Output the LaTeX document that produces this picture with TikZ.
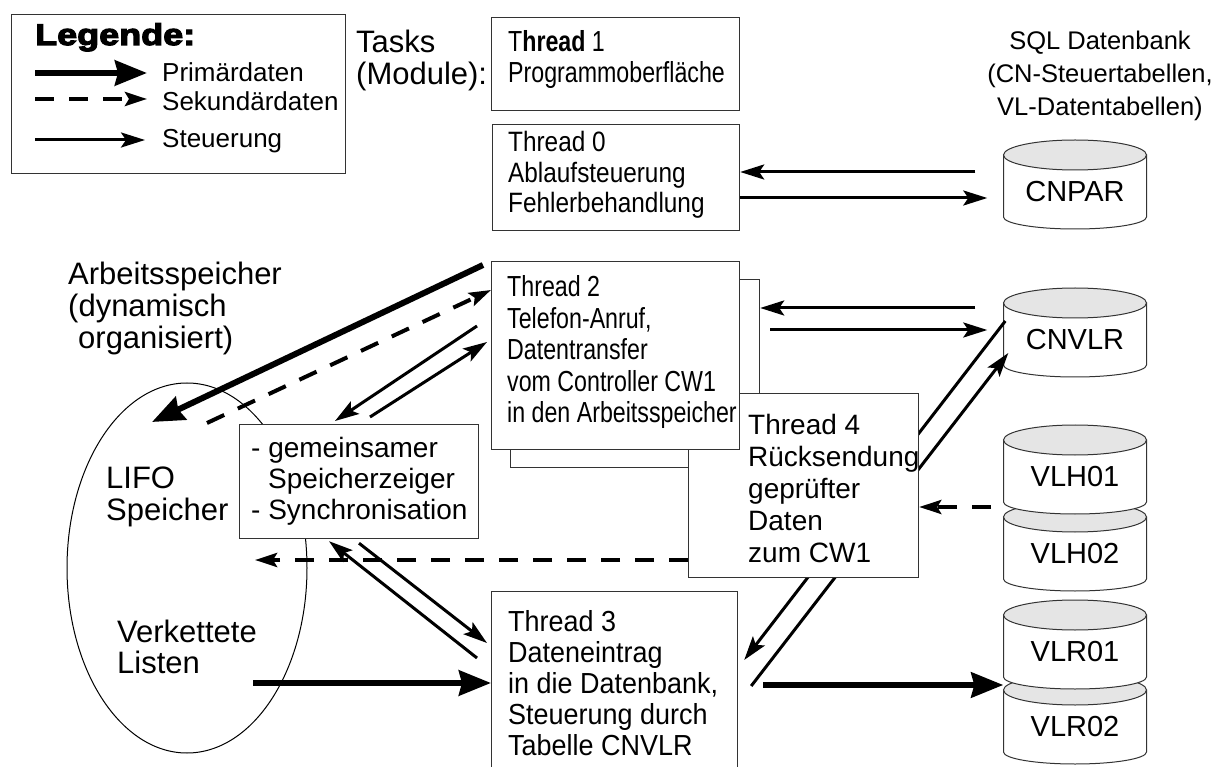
\documentclass[tikz,border=0pt]{standalone}
\usepackage{fontspec}
\setmainfont{Liberation Sans}
\newfontfamily\nA{Liberation Sans}[FakeStretch=0.8]
\newfontfamily\nB{Liberation Sans}[FakeStretch=0.87]
\newfontfamily\nC{Liberation Sans}[FakeStretch=0.93]
\newfontfamily\blk{Liberation Sans}[FakeBold=4,FakeStretch=1.2]
\usetikzlibrary{arrows.meta,calc,shapes.geometric}
\newcommand{\tl}[1]{\begin{tabular}[t]{@{}l@{}}#1\end{tabular}}
\newcommand{\tc}[1]{\begin{tabular}[t]{@{}c@{}}#1\end{tabular}}
\newcommand{\fs}[2]{\fontsize{#1}{#2}\selectfont}
\newcommand{\dbcyl}[4]{%
  \path[draw=black!80, line width=1pt, fill=white] (#1-71.5,#2) -- (#1-71.5,#2+62)
     arc[start angle=180,end angle=0,x radius=71.5,y radius=12] -- (#1+71.5,#2) -- cycle;
  \path[draw=black!80, line width=1pt, fill=black!10] (#1,#2) ellipse[x radius=71.5,y radius=15];
  \node[inner sep=0, minimum width=143pt, font=\fs{29}{30}] (#3) at (#1,#2+37) {#4};}
\begin{document}
\begin{tikzpicture}[x=1pt,y=-1pt,
  box/.style={draw=black!80, line width=1.2pt, fill=white, inner sep=0, anchor=north west},
  txt/.style={inner sep=0, anchor=base west},
  prim/.style={line width=6pt, -{Stealth[length=32pt,width=25pt,inset=3pt]}},
  sek/.style={line width=4pt, dash pattern=on 19pt off 15pt, -{Stealth[length=22pt,width=14pt,inset=4pt]}},
  steu/.style={line width=3pt, -{Stealth[length=24pt,width=15pt,inset=5pt]}}]
\fill[white] (0,0) rectangle (1219,767);
\useasboundingbox (0,0) rectangle (1219,767);

% Legend
\node[box, minimum width=334pt, minimum height=159pt] (leg) at (11,14) {};
\node[txt] (legt) at (35,45) {\blk\bfseries\fs{30}{30}Legende:};
\node[txt] (lg1) at (162,82) {\fs{26}{28}Primärdaten};
\node[txt] (lg2) at (162,111) {\fs{26}{28}Sekundärdaten};
\node[txt] (lg3) at (162,148) {\fs{26}{28}Steuerung};
\coordinate (la1) at (35,73);  \coordinate (lb1) at (147,73);
\coordinate (la2) at (35,99);  \coordinate (lb2) at (147,99);
\coordinate (la3) at (35,140); \coordinate (lb3) at (145,140);
\draw[prim] (la1) -- (lb1);
\draw[sek] (la2) -- (lb2);
\draw[steu] (la3) -- (lb3);

% Labels
\node[txt] (tasks) at (356,53) {\fs{31}{31}\tl{Tasks\\(Module):}};
\node[inner sep=0, anchor=base] (sql) at (1100,50) {\fs{25.5}{33}\tc{SQL Datenbank\\(CN-Steuertabellen,\\VL-Datentabellen)}};
\node[txt] (arb) at (68,285) {\fs{31}{31}\tl{Arbeitsspeicher\\(dynamisch\\\hspace{10pt}organisiert)}};

% Memory ellipse
\node[draw, line width=1pt, ellipse, inner sep=0, minimum width=240pt, minimum height=370pt] (mem) at (187,568) {};
\node[txt] (lifo) at (106,488) {\fs{31}{32}\tl{LIFO\\Speicher}};
\node[txt] (verk) at (117,642) {\fs{31}{31}\tl{Verkettete\\Listen}};

% Shared pointer box
\node[box, minimum width=239pt, minimum height=114pt] (gem) at (239,424) {};
\node[txt] (gemtxt) at (251,457) {\fs{28}{31}\tl{- gemeinsamer\\\hspace{17pt}Speicherzeiger\\- Synchronisation}};

% Thread boxes
\node[box, minimum width=248pt, minimum height=93pt] (t1) at (491,17) {};
\node[txt] (t1txt) at (508,52) {\nA\fs{29}{30}\tl{T\textbf{hread} 1\\Programmoberfläche}};
\node[box, minimum width=247pt, minimum height=106pt] (t0) at (492,124) {};
\node[txt] (t0txt) at (508,152) {\nB\fs{28}{30.5}\tl{Thread 0\\Ablaufsteuerung\\Fehlerbehandlung}};
\node[box, minimum width=249pt, minimum height=188pt] (t2b) at (510,279) {};
\node[box, minimum width=246pt, minimum height=180pt] (t3) at (491,591) {};
\node[txt] (t3txt) at (508,631) {\nC\fs{29}{31}\tl{Thread 3\\Dateneintrag\\in die Datenbank,\\Steuerung durch\\Tabelle CNVLR}};

% Databases
\dbcyl{1075}{155}{cnpar}{CNPAR}
\dbcyl{1075}{303}{cnvlr}{CNVLR}
\dbcyl{1075}{517}{vlh02}{VLH02}
\dbcyl{1075}{440}{vlh01}{VLH01}
\dbcyl{1075}{690}{vlr02}{VLR02}
\dbcyl{1075}{615}{vlr01}{VLR01}

% Lines passing behind Thread 4
\draw[steu] ($(t3.east |- 0,686)+(13,0)$) -- ($(cnvlr.west |- 0,353)+(5,0)$);
\draw[steu] ($(cnvlr.west |- 0,321)+(2,0)$) -- ($(t3.east |- 0,660)+(6,0)$);

% Thread 4 (behind the front Thread 2 box)
\node[box, minimum width=230pt, minimum height=184pt] (t4) at (688,393) {};
\node[txt] (t4txt) at (748,435) {\fs{28}{32}\tl{Thread 4\\Rücksendung\\geprüfter\\Daten\\zum CW1}};

% Thread 2 front box
\node[box, minimum width=248pt, minimum height=188pt] (t2) at (491,261) {};
\node[txt] (t2txt) at (507,297) {\nA\fs{29}{31.5}\tl{Thread 2\\Telefon-Anruf,\\Datentransfer\\vom Controller CW1\\in den Arbeitsspeicher}};

% Thread 0 <-> CNPAR
\draw[steu] ($(cnpar.west |- 0,172)+(-28,0)$) -- (t0.east |- 0,172);
\draw[steu] (t0.east |- 0,198) -- ($(cnpar.west |- 0,198)+(-16,0)$);
% Thread 2 <-> CNVLR
\draw[steu] ($(cnvlr.west |- 0,308)+(-28,0)$) -- (t2b.east |- 0,308);
\draw[steu] ($(t2b.east |- 0,330)+(10,0)$) -- ($(cnvlr.west |- 0,330)+(-16,0)$);

% VLH -> Thread 4, Thread 4 -> LIFO
\coordinate (vlhA) at (991,507);
\draw[sek] (vlhA) -- (t4.east |- 0,507);
\coordinate (memB) at (255,560);
\draw[sek] (t4.west |- 0,560) -- (memB);

% Thread 2 <-> memory
\coordinate (memP) at (152,422);
\draw[prim] ($(t2.west |- 0,265)+(-8,0)$) -- (memP);
\coordinate (memS) at (207,423);
\draw[sek] (memS) -- (t2.west |- 0,290);

% Thread 2 <-> gem
\draw[steu] ($(t2.west |- 0,326)+(-14,0)$) -- ($(gem.north -| 335,0)+(0,-3)$);
\draw[steu] ($(gem.north -| 370,0)+(0,-7)$) -- ($(t2.west |- 0,342)+(-4,0)$);
% gem <-> Thread 3
\draw[steu] ($(t3.west |- 0,658)+(-14,0)$) -- ($(gem.south -| 329,0)+(0,2)$);
\draw[steu] ($(gem.south -| 359,0)+(0,4)$) -- ($(t3.west |- 0,643)+(-4,0)$);

% Primary data to Thread 3 and VLR
\coordinate (verkA) at (253,683);
\draw[prim] (verkA) -- (t3.west |- 0,683);
\draw[prim] ($(t3.east |- 0,685)+(25,0)$) -- (vlr01.west |- 0,685);
\end{tikzpicture}
\end{document}
